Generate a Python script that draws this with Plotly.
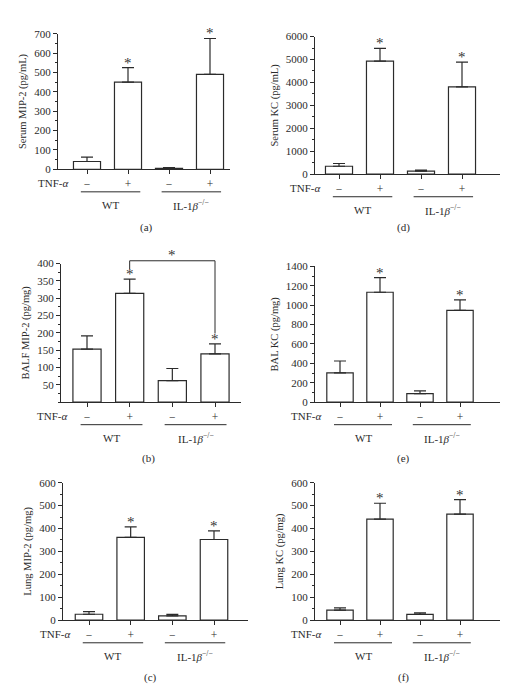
import plotly.graph_objects as go

# ---------------- data ----------------
tnf_labels = ["−", "+", "−", "+"]
group_labels = ["WT", "IL-1<i>β</i><sup>−/−</sup>"]
panel_letters = ["(a)", "(b)", "(c)", "(d)", "(e)", "(f)"]
y_titles = ["Serum MIP-2 (pg/mL)", "BALF MIP-2 (pg/mg)", "Lung MIP-2 (pg/mg)",
            "Serum KC (pg/mL)", "BAL KC (pg/mg)", "Lung KC (pg/mg)"]

serum_mip2 = [40, 450, 5, 490]
serum_mip2_err = [22, 75, 3, 185]
balf_mip2 = [153, 314, 62, 139]
balf_mip2_err = [38, 41, 35, 29]
lung_mip2 = [26, 361, 19, 352]
lung_mip2_err = [11, 46, 6, 38]
serum_kc = [345, 4930, 130, 3810]
serum_kc_err = [120, 560, 45, 1080]
bal_kc = [302, 1134, 88, 946]
bal_kc_err = [122, 152, 28, 110]
lung_kc = [44, 441, 25, 463]
lung_kc_err = [10, 69, 7, 63]

sig_bars = [1, 3]  # TNF-alpha treated bars marked with *

values = [serum_mip2, balf_mip2, lung_mip2, serum_kc, bal_kc, lung_kc]
errors = [serum_mip2_err, balf_mip2_err, lung_mip2_err, serum_kc_err, bal_kc_err, lung_kc_err]

y_max = [700, 400, 600, 6000, 1400, 600]
y_major = [100, 50, 100, 1000, 200, 100]
y_minor = [50, 25, 50, 500, 100, 50]
y_first_label = [0, 50, 0, 0, 0, 0]

# ---------------- layout geometry (px) ----------------
W, H = 509, 685
# left, right, top, bottom of plot area ; first & last bar centre
boxes = [
    (50, 222, 20, 158, 79, 202),
    (53, 233, 254, 395, 79, 207),
    (55, 240, 477, 617, 81, 206),
    (307, 492, 23, 163, 331, 454),
    (307, 492, 257, 395, 332, 452),
    (307, 492, 477, 617, 332, 452),
]
caption_pos = [(138, 217), (140, 452), (142, 675), (395, 217), (395, 452), (395, 675)]

FONT = "Liberation Serif"
INK = "#2b2b2b"

fig = go.Figure()
annotations = []
shapes = []

for i in range(6):
    n = i + 1
    xa = "x" if n == 1 else f"x{n}"
    ya = "y" if n == 1 else f"y{n}"
    left, right, top, bottom, c0, c3 = boxes[i]
    sp = (c3 - c0) / 3.0
    xr = [(left - c0) / sp, (right - c0) / sp]
    hpx = bottom - top

    fig.add_trace(go.Bar(
        x=[0, 1, 2, 3], y=values[i], xaxis=xa, yaxis=ya, width=0.66,
        marker=dict(color="white", line=dict(color=INK, width=1.2)),
        error_y=dict(type="data", array=errors[i], arrayminus=[0, 0, 0, 0], symmetric=False,
                     color=INK, thickness=1.2, width=6),
        showlegend=False, hoverinfo="skip",
    ))

    xkey = "xaxis" if n == 1 else f"xaxis{n}"
    ykey = "yaxis" if n == 1 else f"yaxis{n}"
    fig.update_layout(**{
        xkey: dict(domain=[left / W, right / W], anchor=ya, range=xr,
                   showgrid=False, zeroline=False, showline=True, linecolor=INK, linewidth=1,
                   ticks="outside", ticklen=4, tickwidth=1, tickcolor=INK,
                   tickmode="array", tickvals=[0, 1, 2, 3], ticktext=tnf_labels,
                   tickfont=dict(family=FONT, size=11.5, color=INK), fixedrange=True),
        ykey: dict(domain=[1 - bottom / H, 1 - top / H], anchor=xa, range=[0, y_max[i]],
                   showgrid=False, zeroline=False, showline=True, linecolor=INK, linewidth=1,
                   ticks="outside", ticklen=4, tickwidth=1, tickcolor=INK,
                   tickmode="array",
                   tickvals=list(range(y_first_label[i], y_max[i] + 1, y_major[i])),
                   minor=dict(dtick=y_minor[i], tick0=0, ticks="outside", ticklen=2.5,
                              tickwidth=1, tickcolor=INK),
                   tickfont=dict(family=FONT, size=11, color=INK),
                   title=dict(text=y_titles[i], font=dict(family=FONT, size=10.5, color=INK),
                              standoff=5),
                   fixedrange=True),
    })

    # TNF-alpha row label
    annotations.append(dict(text="TNF-<i>α</i>", xref=xa, yref=f"{ya} domain",
                            x=-0.42, y=0, yshift=-14, xanchor="right", yanchor="middle",
                            showarrow=False, font=dict(family=FONT, size=11, color=INK)))
    # group lines and labels
    def dom(c):
        return (c - xr[0]) / (xr[1] - xr[0])
    line_y = -23.0 / hpx
    for g, (a0, a1) in enumerate([(-0.15, 1.3), (1.82, 3.27)]):
        shapes.append(dict(type="line", xref=f"{xa} domain", yref=f"{ya} domain",
                           x0=dom(a0), x1=dom(a1), y0=line_y, y1=line_y,
                           line=dict(color=INK, width=1)))
        annotations.append(dict(text=group_labels[g], xref=xa, yref=f"{ya} domain",
                                x=(a0 + a1) / 2, y=0, yshift=-36, xanchor="center",
                                yanchor="middle", showarrow=False,
                                font=dict(family=FONT, size=11, color=INK)))
    # significance stars
    for b in sig_bars:
        annotations.append(dict(text="*", xref=xa, yref=ya, x=b,
                                y=values[i][b] + errors[i][b], yshift=-5,
                                xanchor="center", yanchor="bottom", showarrow=False,
                                font=dict(family=FONT, size=15, color="#333333")))
    # caption
    cx, cy = caption_pos[i]
    annotations.append(dict(text=panel_letters[i], xref="paper", yref="paper",
                            x=cx / W, y=1 - cy / H, xanchor="center", yanchor="middle",
                            showarrow=False, font=dict(family=FONT, size=11, color=INK)))

# bracket comparison in panel (b): WT+TNF vs IL-1b-/- + TNF
bracket_x = [1, 3]
bracket_top = 408
bracket_left_bottom = 384
bracket_right_bottom = 198
left, right, top, bottom, c0, c3 = boxes[1]
sp = (c3 - c0) / 3.0
xr = [(left - c0) / sp, (right - c0) / sp]
def domb(c):
    return (c - xr[0]) / (xr[1] - xr[0])
ymx = y_max[1]
for (xa0, ya0, xa1, ya1) in [
    (bracket_x[0], bracket_left_bottom, bracket_x[0], bracket_top),
    (bracket_x[0], bracket_top, bracket_x[1], bracket_top),
    (bracket_x[1], bracket_top, bracket_x[1], bracket_right_bottom),
]:
    shapes.append(dict(type="line", xref="x2 domain", yref="y2 domain",
                       x0=domb(xa0), x1=domb(xa1), y0=ya0 / ymx, y1=ya1 / ymx,
                       line=dict(color=INK, width=1)))
annotations.append(dict(text="*", xref="x2 domain", yref="y2 domain",
                        x=domb(2), y=bracket_top / ymx, yshift=-4, xanchor="center",
                        yanchor="bottom", showarrow=False,
                        font=dict(family=FONT, size=15, color="#333333")))

fig.update_layout(
    width=W, height=H, margin=dict(l=0, r=0, t=0, b=0),
    paper_bgcolor="white", plot_bgcolor="white",
    annotations=annotations, shapes=shapes, bargap=0.3,
    font=dict(family=FONT, color=INK),
)

fig.write_html("out.html")
